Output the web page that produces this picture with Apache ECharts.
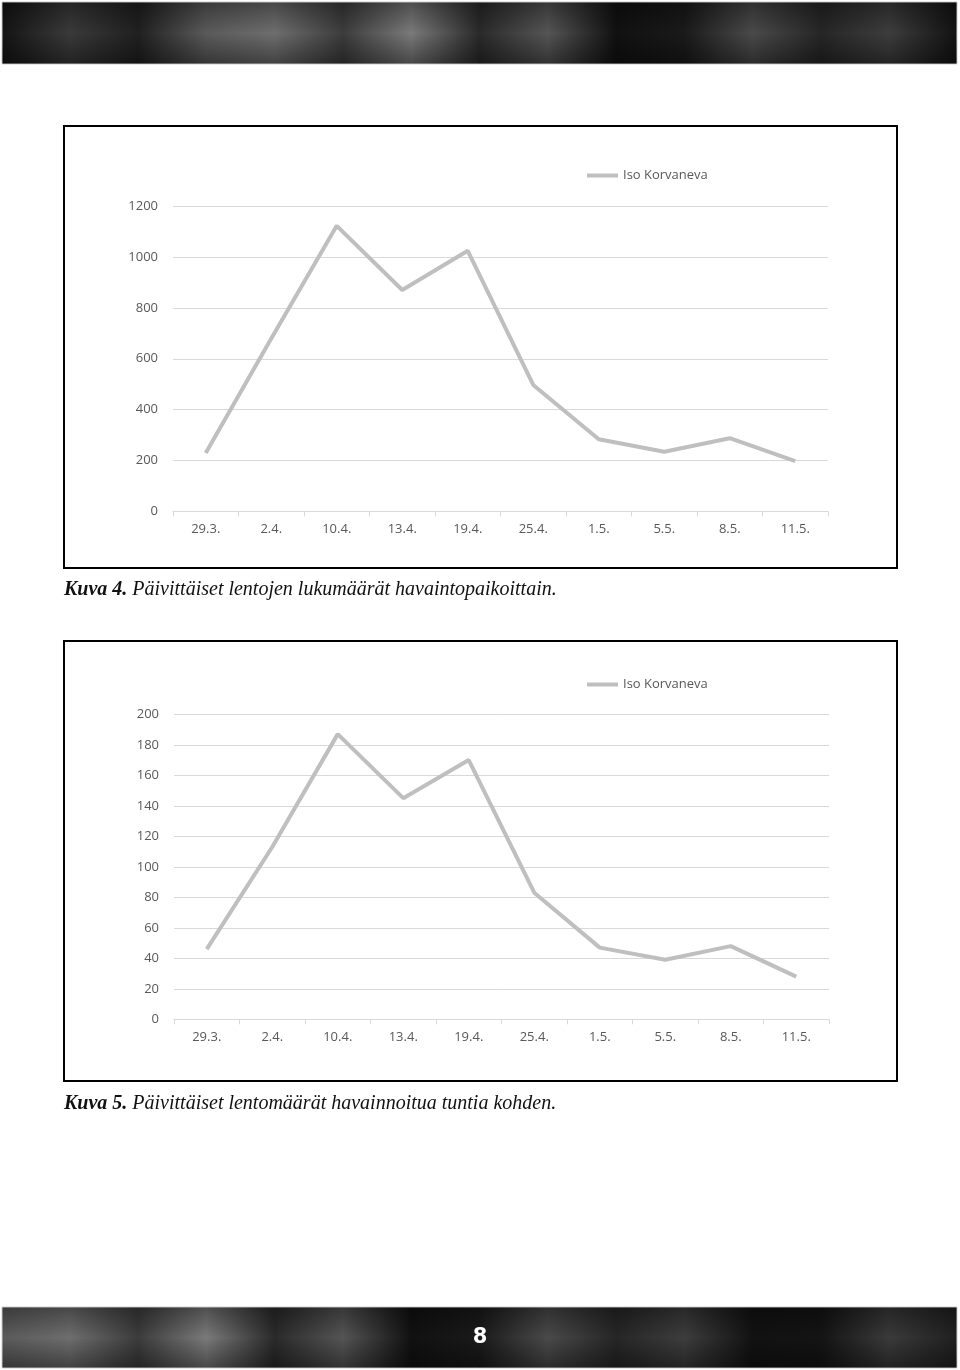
<!DOCTYPE html>
<html>
<head>
<meta charset="utf-8">
<script src="https://cdn.jsdelivr.net/npm/echarts@6/dist/echarts.min.js"></script>
<style>
html,body{margin:0;padding:0;background:#fff;}
#c{width:960px;height:1370px;}
</style>
</head>
<body>
<div id="c"></div>
<script>
// Data
var categories = ['29.3.', '2.4.', '10.4.', '13.4.', '19.4.', '25.4.', '1.5.', '5.5.', '8.5.', '11.5.'];
var seriesName = 'Iso Korvaneva';
var flightsPerDay = [230, 680, 1122, 870, 1024, 497, 284, 235, 288, 198];
var flightsPerHour = [46, 113, 187, 145, 170, 83, 47, 39, 48, 28];
var caption4Bold = 'Kuva 4.';
var caption4Text = ' Päivittäiset lentojen lukumäärät havaintopaikoittain.';
var caption5Bold = 'Kuva 5.';
var caption5Text = ' Päivittäiset lentomäärät havainnoitua tuntia kohden.';
var pageNumber = '8';

var chart = echarts.init(document.getElementById('c'), null, {renderer: 'canvas'});

var labelFont = '"Open Sans", "Noto Sans", sans-serif';
var labelColor = '#595959';
var gridColor = '#d9d9d9';
var lineColor = '#bfbfbf';

function xAxisCfg(gi) {
  return {
    type: 'category', gridIndex: gi, data: categories, boundaryGap: true,
    axisLine: {show: true, lineStyle: {color: gridColor, width: 1}},
    axisTick: {show: true, length: 5, interval: 0, lineStyle: {color: gridColor}},
    axisLabel: {color: labelColor, fontSize: 13, fontFamily: labelFont, margin: 11, interval: 0},
    splitLine: {show: false}
  };
}
function yAxisCfg(gi, max, interval) {
  return {
    type: 'value', gridIndex: gi, min: 0, max: max, interval: interval,
    axisLine: {show: false}, axisTick: {show: false},
    axisLabel: {color: labelColor, fontSize: 13, fontFamily: labelFont, margin: 15,
      formatter: function (v) { return String(v); }},
    splitLine: {show: true, lineStyle: {color: gridColor, width: 1}}
  };
}

// textured dark bands (decoration)
function band(y, h, seedShift) {
  var stops = [];
  var tones = ['#141414','#3a3a3a','#202020','#5a5a5a','#6e6e6e','#3c3c3c','#7a7a7a','#2a2a2a','#555','#111','#1a1a1a','#4a4a4a','#262626','#3d3d3d','#121212'];
  for (var i = 0; i < tones.length; i++) {
    stops.push({offset: i / (tones.length - 1), color: tones[(i + seedShift) % tones.length]});
  }
  return [
    {type: 'rect', shape: {x: 2, y: y, width: 955, height: h},
     style: {fill: new echarts.graphic.LinearGradient(0, 0, 1, 0, stops), stroke: '#cfcfcf', lineWidth: 1}, z: 1, silent: true},
    {type: 'rect', shape: {x: 2.5, y: y + 0.5, width: 954, height: h - 1},
     style: {fill: new echarts.graphic.LinearGradient(0, 0, 0, 1, [
       {offset: 0, color: 'rgba(0,0,0,0.35)'}, {offset: 0.5, color: 'rgba(0,0,0,0)'}, {offset: 1, color: 'rgba(0,0,0,0.4)'}])},
     z: 2, silent: true}
  ];
}

var graphics = [];
graphics = graphics.concat(band(2, 62, 0));
graphics = graphics.concat(band(1307, 61, 3));
graphics.push({type: 'text', x: 480, y: 1338, z: 5,
  style: {text: pageNumber, fill: '#ffffff', font: 'bold 21px "DejaVu Sans"', align: 'center', verticalAlign: 'middle'}});
// chart boxes
graphics.push({type: 'rect', shape: {x: 64, y: 126, width: 833, height: 442}, style: {fill: 'none', stroke: '#000', lineWidth: 2}, z: 3});
graphics.push({type: 'rect', shape: {x: 64, y: 641, width: 833, height: 440}, style: {fill: 'none', stroke: '#000', lineWidth: 2}, z: 3});
// captions
function caption(y, b, t) {
  return {type: 'text', x: 64, y: y, z: 5,
    style: {text: '{b|' + b + '}{n|' + t + '}', verticalAlign: 'middle',
      rich: {b: {font: 'italic bold 20px "Liberation Serif"', fill: '#111'}, n: {font: 'italic 20px "Liberation Serif"', fill: '#111'}}}};
}
graphics.push(caption(590, caption4Bold, caption4Text));
graphics.push(caption(1104, caption5Bold, caption5Text));

function legendCfg(top) {
  return {data: [seriesName], left: 587, top: top, padding: 0, icon: 'rect', itemWidth: 31, itemHeight: 4,
    textStyle: {color: labelColor, fontSize: 13, fontFamily: labelFont}, selectedMode: false};
}

var option = {
  animation: false,
  backgroundColor: '#ffffff',
  legend: [legendCfg(169), legendCfg(678)],
  grid: [
    {left: 173, top: 206, width: 655, height: 305.5, containLabel: false},
    {left: 174, top: 714.3, width: 655, height: 305, containLabel: false}
  ],
  xAxis: [xAxisCfg(0), xAxisCfg(1)],
  yAxis: [yAxisCfg(0, 1200, 200), yAxisCfg(1, 200, 20)],
  series: [
    {name: seriesName, type: 'line', xAxisIndex: 0, yAxisIndex: 0, data: flightsPerDay,
     symbol: 'none', lineStyle: {color: lineColor, width: 4}, itemStyle: {color: lineColor}},
    {name: seriesName, type: 'line', xAxisIndex: 1, yAxisIndex: 1, data: flightsPerHour,
     symbol: 'none', lineStyle: {color: lineColor, width: 4}, itemStyle: {color: lineColor}}
  ],
  graphic: graphics
};
chart.setOption(option);
</script>
</body>
</html>
